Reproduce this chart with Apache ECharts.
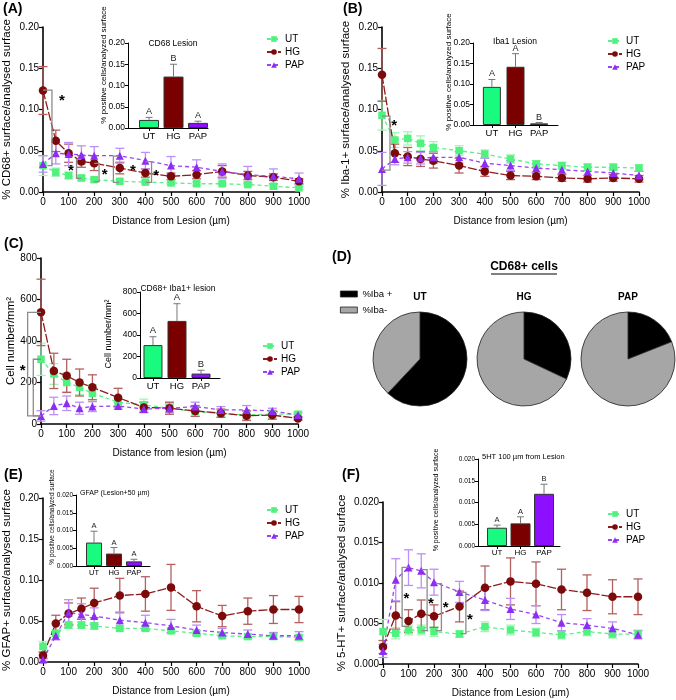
<!DOCTYPE html>
<html><head><meta charset="utf-8">
<script src="https://cdn.jsdelivr.net/npm/echarts/dist/echarts.min.js"></script>
<style>html,body{margin:0;padding:0;background:#fff}#c{width:676px;height:700px}</style>
</head><body><div id="c"></div>
<script>
// ---------- data ----------
const X = [0,50,100,150,200,300,400,500,600,700,800,900,1000];
const GROUPS = ['UT','HG','PAP'];

// Panel A  (CD68)
const A_UT      = [0.032,0.024,0.020,0.017,0.015,0.013,0.012,0.011,0.010,0.010,0.009,0.007,0.005];
const A_UT_SEM  = [0.012,0.005,0.004,0.003,0.003,0.002,0.002,0.002,0.002,0.002,0.002,0.002,0.002];
const A_HG      = [0.123,0.062,0.047,0.037,0.035,0.029,0.023,0.019,0.021,0.025,0.020,0.018,0.013];
const A_HG_SEM  = [0.029,0.013,0.011,0.007,0.009,0.007,0.005,0.004,0.005,0.007,0.005,0.004,0.003];
const A_PAP     = [0.034,0.047,0.046,0.045,0.044,0.044,0.038,0.032,0.030,0.025,0.021,0.019,0.016];
const A_PAP_SEM = [0.010,0.013,0.014,0.011,0.011,0.009,0.010,0.011,0.009,0.009,0.010,0.009,0.007];
const A_BAR     = [0.019,0.121,0.012];
const A_BAR_SEM = [0.006,0.029,0.004];
const A_LETTERS = ['A','B','A'];
const A_BRACKETS = [
  [0,0.1236, 35,0.1236, 35,0.032, 17,0.032],
  [150,0.0396, 131,0.0396, 131,0.0166, 150,0.0166],
  [200,0.0348, 219,0.0348, 219,0.0125, 200,0.0125],
  [297,0.0436, 275,0.0436, 275,0.0117, 297,0.0117],
  [401,0.0368, 424,0.0368, 424,0.0117, 401,0.0117]
];
const A_STARS = [[74,0.115],[109,0.0307],[241,0.0254],[351,0.0307],[442,0.0246]];

// Panel B  (Iba-1)
const B_UT      = [0.093,0.063,0.065,0.059,0.054,0.050,0.046,0.040,0.034,0.032,0.030,0.030,0.029];
const B_UT_SEM  = [0.018,0.009,0.008,0.009,0.007,0.006,0.005,0.005,0.004,0.004,0.004,0.004,0.004];
const B_HG      = [0.142,0.047,0.043,0.040,0.038,0.032,0.025,0.020,0.019,0.017,0.016,0.017,0.016];
const B_HG_SEM  = [0.032,0.011,0.011,0.009,0.009,0.009,0.006,0.005,0.004,0.004,0.004,0.004,0.004];
const B_PAP     = [0.028,0.040,0.042,0.041,0.042,0.042,0.035,0.032,0.029,0.027,0.025,0.023,0.020];
const B_PAP_SEM = [0.020,0.007,0.007,0.007,0.007,0.007,0.006,0.006,0.005,0.005,0.005,0.005,0.005];
const B_BAR     = [0.093,0.142,0.004];
const B_BAR_SEM = [0.018,0.032,0.002];
const B_LETTERS = ['A','A','B'];
const B_BRACKETS = [[0,0.0919, 31,0.0919, 31,0.0266, 0,0.0266]];
const B_STARS = [[47,0.085]];

// Panel C  (CD68+ Iba1+ cells)
const C_UT      = [312,241,200,177,148,105,92,76,60,52,43,48,47];
const C_UT_SEM  = [78,50,45,35,40,22,28,29,24,16,20,20,13];
const C_HG      = [538,256,232,200,177,127,80,76,63,52,40,43,27];
const C_HG_SEM  = [160,85,80,65,60,45,25,29,26,20,23,20,8];
const C_PAP     = [39,87,100,76,84,87,72,76,84,68,68,63,43];
const C_PAP_SEM = [25,42,35,29,24,15,15,20,21,16,21,13,10];
const C_BAR     = [306,531,41];
const C_BAR_SEM = [78,160,31];
const C_LETTERS = ['A','A','B'];
const C_BRACKETS = [[0,538, -52,538, -52,39, 0,39],[0,312, -30,312, -30,39, 0,39]];
const C_STARS = [[-71,277]];

// Panel D  (pies)
const PIE_NAMES = ['UT','HG','PAP'];
const PIE_IBA_POS = [62,32,19];
const PIE_IBA_NEG = [38,68,81];

// Panel E  (GFAP)
const E_UT      = [0.019,0.035,0.045,0.045,0.044,0.041,0.041,0.038,0.035,0.032,0.031,0.031,0.030];
const E_UT_SEM  = [0.006,0.004,0.004,0.004,0.004,0.003,0.003,0.003,0.003,0.003,0.003,0.003,0.003];
const E_HG      = [0.008,0.047,0.059,0.065,0.072,0.081,0.083,0.091,0.068,0.056,0.062,0.064,0.064];
const E_HG_SEM  = [0.004,0.010,0.013,0.013,0.018,0.021,0.021,0.028,0.019,0.013,0.016,0.017,0.016];
const E_PAP     = [0.003,0.032,0.060,0.058,0.056,0.051,0.048,0.044,0.039,0.036,0.034,0.032,0.032];
const E_PAP_SEM = [0.002,0.005,0.016,0.013,0.010,0.010,0.009,0.008,0.006,0.005,0.005,0.004,0.005];
const E_BAR     = [0.0066,0.0035,0.0013];
const E_BAR_SEM = [0.0032,0.0017,0.0006];
const E_LETTERS = ['A','A','A'];

// Panel F  (5-HT)
const F_UT      = [0.0040,0.0038,0.0042,0.0042,0.0040,0.0037,0.0046,0.0042,0.0039,0.0036,0.0040,0.0037,0.0037];
const F_UT_SEM  = [0.0015,0.0007,0.0006,0.0006,0.0006,0.0004,0.0006,0.0006,0.0005,0.0005,0.0005,0.0005,0.0005];
const F_HG      = [0.0021,0.0060,0.0053,0.0062,0.0059,0.0071,0.0094,0.0102,0.0099,0.0092,0.0088,0.0083,0.0083];
const F_HG_SEM  = [0.0008,0.0017,0.0014,0.0017,0.0014,0.0019,0.0027,0.0029,0.0027,0.0025,0.0022,0.0021,0.0022];
const F_PAP     = [0.0016,0.0104,0.0119,0.0115,0.0101,0.0089,0.0079,0.0068,0.0061,0.0051,0.0048,0.0044,0.0036];
const F_PAP_SEM = [0.0008,0.0026,0.0022,0.0021,0.0016,0.0013,0.0013,0.0013,0.0011,0.0010,0.0008,0.0008,0.0005];
const F_BAR     = [0.0042,0.0052,0.0120];
const F_BAR_SEM = [0.0006,0.0015,0.0022];
const F_LETTERS = ['A','A','B'];
const F_BRACKETS = [
  [101,0.01193, 75,0.01193, 75,0.00464, 101,0.00464],
  [151,0.01165, 173,0.01165, 173,0.00411, 151,0.00411],
  [207,0.00992, 229,0.00992, 229,0.00411, 207,0.00411],
  [304,0.00885, 325,0.00885, 325,0.00374, 304,0.00374]
];
const F_STARS = [[92,0.00856],[188,0.00794],[246,0.00745],[341,0.00597]];

// ---------- styles ----------
const FAM = '"Liberation Sans", Arial, Helvetica, sans-serif';
const STY = {
  UT:  {symbol:'rect',     size:7.5, color:'#4ef27c', line:'#5cf08a', err:'#a2f5b4', dash:[4,3]},
  HG:  {symbol:'circle',   size:8.5, color:'#7c0a0a', line:'#8e1c1c', err:'#b46060', dash:[9,2]},
  PAP: {symbol:'triangle', size:8,   color:'#8e2cf5', line:'#9a44f5', err:'#bb90f7', dash:[4,3]}
};
const BAR_COLORS = ['#19fb7f','#7a0000','#8c10ff'];

const grids=[], xAxes=[], yAxes=[], series=[], legends=[], graphics=[];

function errRender(color){
  return function(params, api){
    const x=api.value(0), y=api.value(1), e=api.value(2);
    const a=api.coord([x,y+e]), b=api.coord([x,y-e]);
    const w=4.5, st={stroke:color, lineWidth:1.3};
    return {type:'group', children:[
      {type:'line', shape:{x1:a[0],y1:a[1],x2:b[0],y2:b[1]}, style:st},
      {type:'line', shape:{x1:a[0]-w,y1:a[1],x2:a[0]+w,y2:a[1]}, style:st},
      {type:'line', shape:{x1:b[0]-w,y1:b[1],x2:b[0]+w,y2:b[1]}, style:st}
    ]};
  };
}
function bracketRender(params, api){
  const pts=[0,1,2,3].map(k=>api.coord([api.value(2*k),api.value(2*k+1)]));
  return {type:'polyline', shape:{points:pts}, style:{stroke:'#8c8c8c', lineWidth:1.3, fill:null}};
}
function starRender(params, api){
  const p=api.coord([api.value(0),api.value(1)]);
  return {type:'text', x:p[0], y:p[1]+4, style:{text:'*', font:'bold 15px '+FAM, fill:'#000', textAlign:'center', textVerticalAlign:'middle'}};
}

function addMain(p){
  const gi=grids.length;
  grids.push({left:p.grid[0], top:p.grid[1], width:p.grid[2], height:p.grid[3]});
  xAxes.push({gridIndex:gi, type:'value', min:0, max:1000, interval:100,
    name:p.xName, nameLocation:'middle', nameGap:p.xGap,
    nameTextStyle:{fontSize:10, fontFamily:FAM, color:'#000'},
    axisLine:{show:true, onZero:false, lineStyle:{color:'#000', width:1.6}},
    axisTick:{show:true, length:4, lineStyle:{color:'#000', width:1.2}},
    axisLabel:{color:'#000', fontSize:10, fontFamily:FAM, margin:5, formatter:v=>String(v)},
    splitLine:{show:false}});
  yAxes.push({gridIndex:gi, type:'value', min:0, max:p.yMax, interval:p.yInt,
    name:p.yName, nameLocation:'middle', nameGap:p.yGap, nameRotate:90,
    nameTextStyle:{fontSize:11.5, fontFamily:FAM, color:'#000'},
    axisLine:{show:true, onZero:false, lineStyle:{color:'#000', width:1.6}},
    axisTick:{show:true, length:4, lineStyle:{color:'#000', width:1.2}},
    axisLabel:{color:'#000', fontSize:10, fontFamily:FAM, margin:4, formatter:v=>v.toFixed(p.dec)},
    splitLine:{show:false}});
  GROUPS.forEach((g,k)=>{
    const s=STY[g], m=p.means[k], e=p.sems[k];
    series.push({type:'custom', name:g+' SEM', xAxisIndex:gi, yAxisIndex:gi, silent:true, z:2,
      renderItem:errRender(s.err), encode:{x:0,y:1},
      data:X.map((x,i)=>[x,m[i],e[i]])});
  });
  GROUPS.forEach((g,k)=>{
    const s=STY[g], m=p.means[k];
    series.push({type:'line', name:g, xAxisIndex:gi, yAxisIndex:gi, z:3,
      symbol:s.symbol, symbolSize:s.size, itemStyle:{color:s.color},
      lineStyle:{color:s.line, width:1.3, type:s.dash},
      data:X.map((x,i)=>[x,m[i]])});
  });
  if(p.brackets) series.push({type:'custom', xAxisIndex:gi, yAxisIndex:gi, silent:true, z:4, clip:false,
    renderItem:bracketRender, encode:{x:[0,2,4,6], y:[1,3,5,7]}, data:p.brackets});
  if(p.stars) series.push({type:'custom', xAxisIndex:gi, yAxisIndex:gi, silent:true, z:4, clip:false,
    renderItem:starRender, encode:{x:0,y:1}, data:p.stars});
  legends.push({left:p.leg[0], top:p.leg[1], orient:'vertical', padding:0, itemGap:3,
    itemWidth:14, itemHeight:7, selectedMode:false, data:GROUPS,
    textStyle:{fontSize:10, fontFamily:FAM, color:'#000', padding:[0,0,0,-1]}});
}

function addInset(p){
  const gi=grids.length;
  grids.push({left:p.grid[0], top:p.grid[1], width:p.grid[2], height:p.grid[3]});
  xAxes.push({gridIndex:gi, type:'value', min:p.xr[0], max:p.xr[1],
    axisLine:{show:true, onZero:false, lineStyle:{color:'#000', width:1}},
    axisTick:{show:true, customValues:[0,1,2], length:3, lineStyle:{color:'#000'}},
    axisLabel:{customValues:[0,1,2], formatter:v=>GROUPS[Math.round(v)], color:'#000', fontSize:p.cfs, fontFamily:FAM, margin:3},
    splitLine:{show:false}});
  yAxes.push({gridIndex:gi, type:'value', min:0, max:p.yMax, interval:p.yInt,
    axisLine:{show:true, onZero:false, lineStyle:{color:'#000', width:1}},
    axisTick:{show:true, length:3, lineStyle:{color:'#000'}},
    axisLabel:{color:'#000', fontSize:p.tfs, fontFamily:FAM, margin:3, formatter:v=>v.toFixed(p.dec)},
    splitLine:{show:false}});
  series.push({type:'bar', xAxisIndex:gi, yAxisIndex:gi, barWidth:p.bw, z:2, silent:true,
    itemStyle:{borderColor:'#333', borderWidth:1},
    data:GROUPS.map((g,i)=>({value:[i,p.vals[i]], itemStyle:{color:BAR_COLORS[i]}}))});
  const letters=p.letters, lfs=p.lfs;
  series.push({type:'custom', xAxisIndex:gi, yAxisIndex:gi, silent:true, z:3,
    encode:{x:0,y:1},
    renderItem:function(params, api){
      const x=api.value(0), y=api.value(1), e=api.value(2);
      const a=api.coord([x,y]), b=api.coord([x,y+e]);
      const w=3.5, st={stroke:'#777', lineWidth:1};
      return {type:'group', children:[
        {type:'line', shape:{x1:a[0],y1:a[1],x2:b[0],y2:b[1]}, style:st},
        {type:'line', shape:{x1:b[0]-w,y1:b[1],x2:b[0]+w,y2:b[1]}, style:st},
        {type:'text', x:b[0], y:b[1]-1, style:{text:letters[params.dataIndex], font:lfs+'px '+FAM, fill:'#222', textAlign:'center', textVerticalAlign:'bottom'}}
      ]};
    },
    data:GROUPS.map((g,i)=>[i,p.vals[i],p.sems[i]])});
}

function txt(s,x,y,font,align,vAlign,rot){
  return {type:'text', x:x, y:y, rotation:rot||0, silent:true, z:10,
    style:{text:s, font:font+' '+FAM, fill:'#000', textAlign:align||'left', textVerticalAlign:vAlign||'middle'}};
}

// ---------- panels ----------
addMain({grid:[42,27,257,165], yMax:0.20, yInt:0.05, dec:2, yGap:30, xGap:24,
  xName:'Distance from Lesion (µm)', yName:'% CD68+ surface/analysed surface',
  means:[A_UT,A_HG,A_PAP], sems:[A_UT_SEM,A_HG_SEM,A_PAP_SEM],
  brackets:A_BRACKETS, stars:A_STARS, leg:[266,34]});
addInset({grid:[128,43,80,85], xr:[-0.86,2.41], yMax:0.20, yInt:0.05, dec:2, bw:20,
  vals:A_BAR, sems:A_BAR_SEM, letters:A_LETTERS, lfs:9, tfs:8.5, cfs:9.5});

addMain({grid:[382,27,257,165], yMax:0.20, yInt:0.05, dec:2, yGap:30, xGap:24,
  xName:'Distance from lesion (µm)', yName:'% Iba-1+ surface/analysed surface',
  means:[B_UT,B_HG,B_PAP], sems:[B_UT_SEM,B_HG_SEM,B_PAP_SEM],
  brackets:B_BRACKETS, stars:B_STARS, leg:[607,36]});
addInset({grid:[473,43,85,82], xr:[-0.8,2.8], yMax:0.20, yInt:0.05, dec:2, bw:18,
  vals:B_BAR, sems:B_BAR_SEM, letters:B_LETTERS, lfs:9, tfs:8.5, cfs:9.5});

addMain({grid:[41,258,257,166], yMax:800, yInt:200, dec:0, yGap:22, xGap:24,
  xName:'Distance from lesion (µm)', yName:'Cell number/mm²',
  means:[C_UT,C_HG,C_PAP], sems:[C_UT_SEM,C_HG_SEM,C_PAP_SEM],
  brackets:C_BRACKETS, stars:C_STARS, leg:[262,341]});
addInset({grid:[140,292,80,86], xr:[-0.54,2.79], yMax:800, yInt:200, dec:0, bw:19,
  vals:C_BAR, sems:C_BAR_SEM, letters:C_LETTERS, lfs:9.5, tfs:8.5, cfs:9.5});

addMain({grid:[42,498,257,164], yMax:0.20, yInt:0.05, dec:2, yGap:30, xGap:24,
  xName:'Distance from Lesion (µm)', yName:'% GFAP+ surface/analysed surface',
  means:[E_UT,E_HG,E_PAP], sems:[E_UT_SEM,E_HG_SEM,E_PAP_SEM], leg:[266,505]});
addInset({grid:[76,495,74,71], xr:[-0.9,2.8], yMax:0.020, yInt:0.005, dec:3, bw:16,
  vals:E_BAR, sems:E_BAR_SEM, letters:E_LETTERS, lfs:7.5, tfs:6.5, cfs:7.5});

addMain({grid:[383,502,255,162], yMax:0.020, yInt:0.005, dec:3, yGap:35, xGap:24,
  xName:'Distance from Lesion (µm)', yName:'% 5-HT+ surface/analysed surface',
  means:[F_UT,F_HG,F_PAP], sems:[F_UT_SEM,F_HG_SEM,F_PAP_SEM],
  brackets:F_BRACKETS, stars:F_STARS, leg:[607,509]});
addInset({grid:[478,459,82,87], xr:[-0.81,2.68], yMax:0.020, yInt:0.005, dec:3, bw:20,
  vals:F_BAR, sems:F_BAR_SEM, letters:F_LETTERS, lfs:7.5, tfs:6.5, cfs:8});

// Panel D pies
const PIE_X = [420,524,628];
PIE_NAMES.forEach((n,i)=>{
  series.push({type:'pie', name:n, center:[PIE_X[i],359], radius:47, startAngle:90, clockwise:true,
    silent:true, label:{show:false}, labelLine:{show:false},
    itemStyle:{borderColor:'#222', borderWidth:0.8},
    data:[{name:'%Iba +', value:PIE_IBA_POS[i], itemStyle:{color:'#000'}},
          {name:'%Iba-', value:PIE_IBA_NEG[i], itemStyle:{color:'#a6a6a6'}}]});
  graphics.push(txt(n, PIE_X[i], 297, 'bold 10px', 'center'));
});
legends.push({left:340, top:289, orient:'vertical', padding:0, itemGap:6, itemWidth:17, itemHeight:6,
  icon:'rect', selectedMode:false, data:['%Iba +','%Iba-'],
  itemStyle:{borderColor:'#222', borderWidth:0.8},
  textStyle:{fontSize:9.5, fontFamily:FAM, color:'#000'}});

// texts
graphics.push(
  txt('(A)',3,9,'bold 14px'), txt('(B)',343,9,'bold 14px'), txt('(C)',4,244,'bold 14px'),
  txt('(D)',332,257,'bold 14px'), txt('(E)',4,475,'bold 14px'), txt('(F)',342,475,'bold 14px'),
  txt('CD68 Lesion',173,44,'8.5px','center'),
  txt('Iba1 Lesion',515,42,'8.5px','center'),
  txt('CD68+ Iba1+ lesion',178,289,'8.5px','center'),
  txt('GFAP (Lesion+50 µm)',80,493,'7px'),
  txt('5HT 100 µm from Lesion',482,457,'7.5px'),
  txt('% positive cells/analyzed surface',104,65,'8px','center','middle',Math.PI/2),
  txt('% positive cells/analyzed surface',449,72,'8px','center','middle',Math.PI/2),
  txt('Cell number/mm²',109,334,'9px','center','middle',Math.PI/2),
  txt('% positive cells/analyzed surface',52.5,517,'6.5px','center','middle',Math.PI/2),
  txt('% positive cells/analyzed surface',436,500,'7px','center','middle',Math.PI/2),
  txt('CD68+ cells',524,267,'bold 12px','center'),
  {type:'line', silent:true, shape:{x1:491,y1:274,x2:557,y2:274}, style:{stroke:'#000', lineWidth:1}}
);

const chart = echarts.init(document.getElementById('c'), null, {renderer:'canvas'});
chart.setOption({
  animation:false, backgroundColor:'#fff',
  textStyle:{fontFamily:FAM},
  grid:grids, xAxis:xAxes, yAxis:yAxes, series:series, legend:legends, graphic:graphics
});
</script></body></html>
